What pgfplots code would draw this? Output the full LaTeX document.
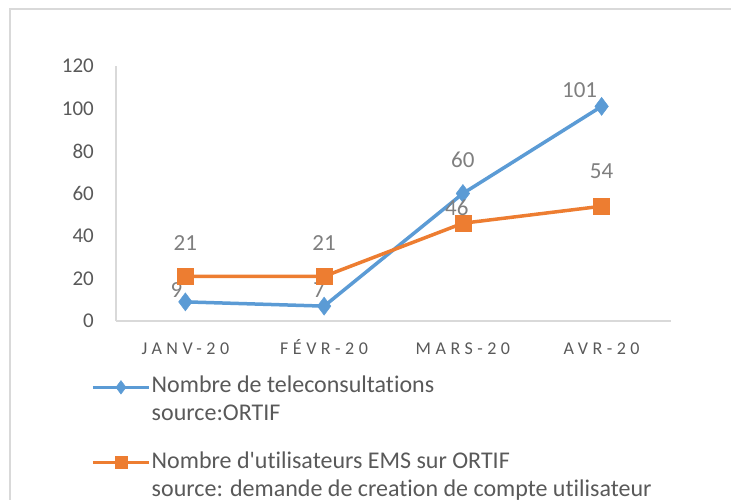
\documentclass[border=0pt]{standalone}
\usepackage{pgfplots}
\pgfplotsset{compat=1.18}
\usepackage{pgfplotstable}
\usepackage{fontspec}
\setmainfont{Carlito}[Ligatures={TeXOff,NoCommon}]
\newfontfamily\catfont[LetterSpace=25]{Carlito}
\definecolor{cblue}{HTML}{5B9BD5}
\definecolor{corange}{HTML}{ED7D31}
\definecolor{tgray}{HTML}{595959}
\definecolor{lgray}{HTML}{7F7F7F}
\definecolor{agray}{HTML}{D9D9D9}

\pgfplotstableread{
x y dx dy
0 9 -9 12
1 7 -5 16
2 60 0 34
3 101 -22 16
}\bluedata
\pgfplotstableread{
x y dx dy
0 21 0 33
1 21 0 33
2 46 -6 15
3 54 0 35
}\orangedata

\begin{document}
\begin{tikzpicture}[x=1bp,y=1bp]
\useasboundingbox (0,0) rectangle (731,500);
\draw[agray, line width=1.5bp] (10,0) -- (10,491) -- (731,491);
\begin{axis}[
  at={(116bp,179bp)}, anchor=south west,
  width=555bp, height=255bp, scale only axis,
  xmin=-0.5, xmax=3.5, ymin=0, ymax=120,
  xtick={0,1,2,3},
  xticklabels={JANV-20,FÉVR-20,MARS-20,AVR-20},
  ytick={0,20,...,120},
  /pgf/number format/assume math mode=true,
  axis x line*=bottom, axis y line*=left,
  axis line style={agray, line width=1.5bp, -},
  tick style={draw=none},
  yticklabel style={anchor=east, inner sep=0pt, xshift=-22bp, text=tgray,
    font=\fontsize{21bp}{24bp}\selectfont},
  xticklabel style={anchor=base, inner sep=0pt, yshift=-34bp, text=tgray,
    font=\catfont\fontsize{18bp}{20bp}\selectfont},
  legend style={at={(axis description cs:-0.045,-0.212)}, anchor=north west,
    draw=none, fill=none, text=tgray, inner sep=0pt,
    font=\fontsize{24bp}{28bp}\selectfont,
    nodes={inner sep=1bp}, row sep=27bp, cells={align=left}},
  legend cell align=left,
  legend image code/.code={\draw[yshift=12bp, mark repeat=2,mark phase=2,#1, every mark/.append style={scale=0.75}] plot coordinates {(0bp,0bp) (28bp,0bp) (56bp,0bp)};},
  clip=false,
]
\addplot[cblue, line width=3.5bp, mark=diamond*, mark size=9bp, mark options={solid, line width=0.5bp},
  nodes near coords, point meta=explicit symbolic,
  visualization depends on={\thisrow{dx}\as\dx},
  visualization depends on={\thisrow{dy}\as\dy},
  nodes near coords style={anchor=center, inner sep=0pt, xshift=\dx bp, yshift=\dy bp, text=lgray,
    font=\fontsize{23bp}{27bp}\selectfont}]
  table[x=x, y=y, meta=y]{\bluedata};
\addlegendentry{Nombre de teleconsultations\\source:ORTIF}
\addplot[corange, line width=3.5bp, mark=square*, mark size=8bp, mark options={solid, line width=0.5bp},
  nodes near coords, point meta=explicit symbolic,
  visualization depends on={\thisrow{dx}\as\dx},
  visualization depends on={\thisrow{dy}\as\dy},
  nodes near coords style={anchor=center, inner sep=0pt, xshift=\dx bp, yshift=\dy bp, text=lgray,
    font=\fontsize{23bp}{27bp}\selectfont}]
  table[x=x, y=y, meta=y]{\orangedata};
\addlegendentry{Nombre d'utilisateurs EMS sur ORTIF\\source: demande de creation de compte utilisateur}
\end{axis}
\end{tikzpicture}
\end{document}
